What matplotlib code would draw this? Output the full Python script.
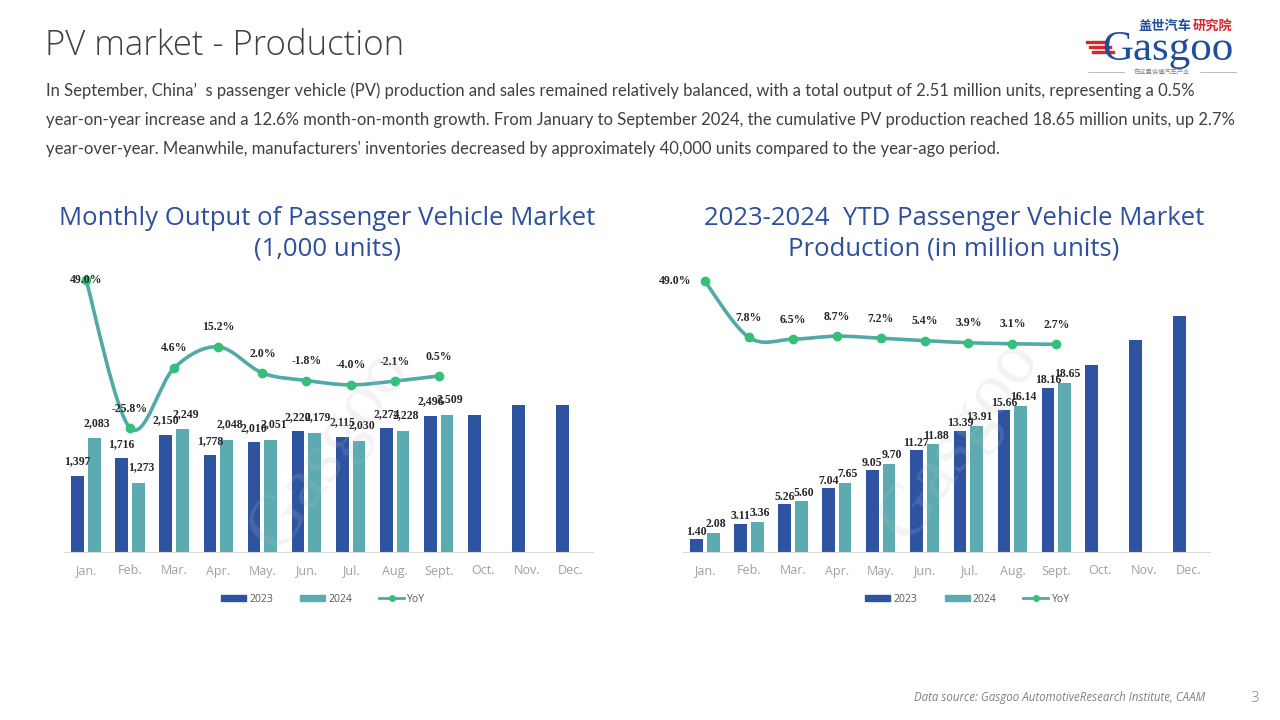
import matplotlib
matplotlib.use("Agg")
import matplotlib.pyplot as plt
from matplotlib.path import Path
from matplotlib.patches import PathPatch, Rectangle, Patch
from matplotlib.lines import Line2D

plt.rcParams['font.family'] = ['Open Sans', 'DejaVu Sans']

# ---- data ----
months = ['Jan.', 'Feb.', 'Mar.', 'Apr.', 'May.', 'Jun.', 'Jul.', 'Aug.', 'Sept.', 'Oct.', 'Nov.', 'Dec.']

monthly_2023 = [1397, 1716, 2150, 1778, 2010, 2220, 2115, 2274, 2496, 2510, 2690, 2690]
monthly_2024 = [2083, 1273, 2249, 2048, 2051, 2179, 2030, 2228, 2509]
monthly_yoy = [49.0, -25.8, 4.6, 15.2, 2.0, -1.8, -4.0, -2.1, 0.5]

ytd_2023 = [1.40, 3.11, 5.26, 7.04, 9.05, 11.27, 13.39, 15.66, 18.16, 20.7, 23.4, 26.1]
ytd_2024 = [2.08, 3.36, 5.60, 7.65, 9.70, 11.88, 13.91, 16.14, 18.65]
ytd_yoy = [49.0, 7.8, 6.5, 8.7, 7.2, 5.4, 3.9, 3.1, 2.7]

# labels are only shown for the reported months of 2023
n_lab_2023 = 9

C23 = '#2E54A1'
C24 = '#5CABB1'
CLINE = '#52A9A7'
CMARK = '#35BF78'
CTITLE = '#2F4F9C'
CTEXT = '#404040'
CJK = ['Noto Sans CJK SC', 'DejaVu Sans']


def smooth_path(xs, ys):
    # Catmull-Rom style smoothing, like Excel's smoothed line
    verts = [(xs[0], ys[0])]
    codes = [Path.MOVETO]
    n = len(xs)
    for i in range(n - 1):
        p0 = (xs[i - 1], ys[i - 1]) if i > 0 else (xs[i], ys[i])
        p1 = (xs[i], ys[i])
        p2 = (xs[i + 1], ys[i + 1])
        p3 = (xs[i + 2], ys[i + 2]) if i + 2 < n else p2
        c1 = (p1[0] + (p2[0] - p0[0]) / 6, p1[1] + (p2[1] - p0[1]) / 6)
        c2 = (p2[0] - (p3[0] - p1[0]) / 6, p2[1] - (p3[1] - p1[1]) / 6)
        verts += [c1, c2, p2]
        codes += [Path.CURVE4] * 3
    return Path(verts, codes)


def draw_chart(rect, v23, v24, yoy, ylim, ylim2, fmt, bar_off, first_off, first_ha, leg_x):
    ax = fig.add_axes(rect)
    x = list(range(len(months)))
    w = 0.29
    ax.bar([i - 0.19 for i in x], v23, width=w, color=C23, zorder=2)
    ax.bar([i + 0.19 for i in range(len(v24))], v24, width=w, color=C24, zorder=2)
    for i, v in enumerate(v23[:n_lab_2023]):
        ax.annotate(fmt(v), (i - 0.19, v), xytext=(0, bar_off), textcoords='offset points',
                    ha='center', va='bottom', fontsize=8.5, fontweight='bold',
                    family='Liberation Serif', color='#262626', zorder=5)
    for i, v in enumerate(v24):
        ax.annotate(fmt(v), (i + 0.19, v), xytext=(2, bar_off + 1), textcoords='offset points',
                    ha='center', va='bottom', fontsize=8.5, fontweight='bold',
                    family='Liberation Serif', color='#262626', zorder=5)
    ax.set_xlim(-0.5, len(months) - 0.5)
    ax.set_ylim(*ylim)
    ax.set_xticks(x)
    ax.set_xticklabels(months, color='#a0a0a0', fontsize=9)
    ax.tick_params(axis='x', length=0, pad=9)
    ax.set_yticks([])
    for s in ['top', 'right', 'left']:
        ax.spines[s].set_visible(False)
    ax.spines['bottom'].set_color('#d9d9d9')
    ax.patch.set_alpha(0)

    ax2 = ax.twinx()
    ax2.set_ylim(*ylim2)
    xs = list(range(len(yoy)))
    ax2.add_patch(PathPatch(smooth_path(xs, yoy), facecolor='none', edgecolor=CLINE,
                            lw=2.6, capstyle='round', zorder=3))
    ax2.plot(xs, yoy, 'o', color=CMARK, ms=6, zorder=4)
    for i, v in enumerate(yoy):
        if i == 0:
            off, ha = first_off, first_ha
        else:
            off, ha = (0, 14), 'center'
        ax2.annotate(f'{v:.1f}%', (i, v), xytext=off, textcoords='offset points',
                     ha=ha, va='center', fontsize=8.5, fontweight='bold',
                     family='Liberation Serif', color='#262626', zorder=5)
    ax2.set_yticks([])
    for s in ax2.spines.values():
        s.set_visible(False)

    handles = [Patch(color=C23, label='2023'), Patch(color=C24, label='2024'),
               Line2D([], [], color=CLINE, lw=2, marker='o', ms=4, mfc=CMARK, mec=CMARK, label='YoY')]
    ax.legend(handles=handles, loc='upper center', bbox_to_anchor=(leg_x, -0.115), ncol=3,
              frameon=False, fontsize=7.5, handlelength=2.4, handleheight=0.6,
              columnspacing=2.6, handletextpad=0.3, labelcolor='#595959')
    return ax


fig = plt.figure(figsize=(12.8, 7.2), dpi=100)

# header
fig.text(45 / 1280, 1 - 46 / 720, 'PV market - Production', fontsize=25, color=CTEXT,
         fontweight='light', va='center', ha='left')
para = ["In September, China\u2019  s passenger vehicle (PV) production and sales remained relatively balanced, with a total output of 2.51 million units, representing a 0.5%",
        "year-on-year increase and a 12.6% month-on-month growth. From January to September 2024, the cumulative PV production reached 18.65 million units, up 2.7%",
        "year-over-year. Meanwhile, manufacturers' inventories decreased by approximately 40,000 units compared to the year-ago period."]
for k, line in enumerate(para):
    fig.text(46 / 1280, 1 - (91 + 29 * k) / 720, line, fontsize=12, family='Lato',
             color=CTEXT, va='center', ha='left')

# chart titles
fig.text(327 / 1280, 1 - 234 / 720, 'Monthly Output of Passenger Vehicle Market\n(1,000 units)',
         fontsize=18.5, color=CTITLE, ha='center', va='center', linespacing=1.3)
fig.text(954 / 1280, 1 - 234 / 720, '2023-2024  YTD Passenger Vehicle Market\nProduction (in million units)',
         fontsize=18.5, color=CTITLE, ha='center', va='center', linespacing=1.3)

draw_chart([64 / 1280, 168 / 720, 529 / 1280, 282 / 720], monthly_2023, monthly_2024, monthly_yoy,
           (0, 5174), (-88.4, 54.0), lambda v: f'{v:,.0f}', 6, (0, 0), 'center', 0.49)
draw_chart([683 / 1280, 168 / 720, 527 / 1280, 282 / 720], ytd_2023, ytd_2024, ytd_yoy,
           (0, 31.16), (-150, 57.35), lambda v: f'{v:.2f}', 1, (-10, 0), 'right', 0.54)

# watermark
for wx, wy in [(330, 450), (960, 440)]:
    fig.text(wx / 1280, 1 - wy / 720, 'Gasgoo', fontsize=54, color='#bbbbbb', alpha=0.18,
             rotation=55, ha='center', va='center', family='Liberation Serif', zorder=10)

# logo
fig.text(1138 / 1280, 1 - 26 / 720, '盖世汽车', fontsize=9.5, fontweight='bold', color='#1F4E9A',
         family=CJK, ha='left', va='center')
fig.text(1232 / 1280, 1 - 26 / 720, '研究院', fontsize=9.5, fontweight='bold', color='#D7262E',
         family=CJK, ha='right', va='center')
fig.text(1102 / 1280, 1 - 60 / 720, 'Gasgoo', fontsize=31, color='#1F4E9A',
         family='Liberation Serif', ha='left', va='baseline')
for k in range(3):
    fig.add_artist(Rectangle(((1086 + 3 * k) / 1280, 1 - (43 + 5 * k) / 720), 22 / 1280, 2.5 / 720,
                             transform=fig.transFigure, color='#D7262E'))
fig.text(1162 / 1280, 1 - 72 / 720, '在这里读懂汽车产业', fontsize=4.5, color='#808080',
         family=CJK, ha='center', va='center')
fig.add_artist(Line2D([1088 / 1280, 1124 / 1280], [1 - 72 / 720] * 2, color='#b0b0b0', lw=0.6))
fig.add_artist(Line2D([1200 / 1280, 1236 / 1280], [1 - 72 / 720] * 2, color='#b0b0b0', lw=0.6))

# footer
fig.text(1205 / 1280, 1 - 698 / 720, 'Data source: Gasgoo AutomotiveResearch Institute, CAAM',
         fontsize=8.3, style='italic', color='#808080', ha='right', va='center')
fig.text(1255 / 1280, 1 - 698 / 720, '3', fontsize=11, color='#808080', ha='center', va='center',
         fontweight='light')

fig.savefig('out.png', dpi=100)
